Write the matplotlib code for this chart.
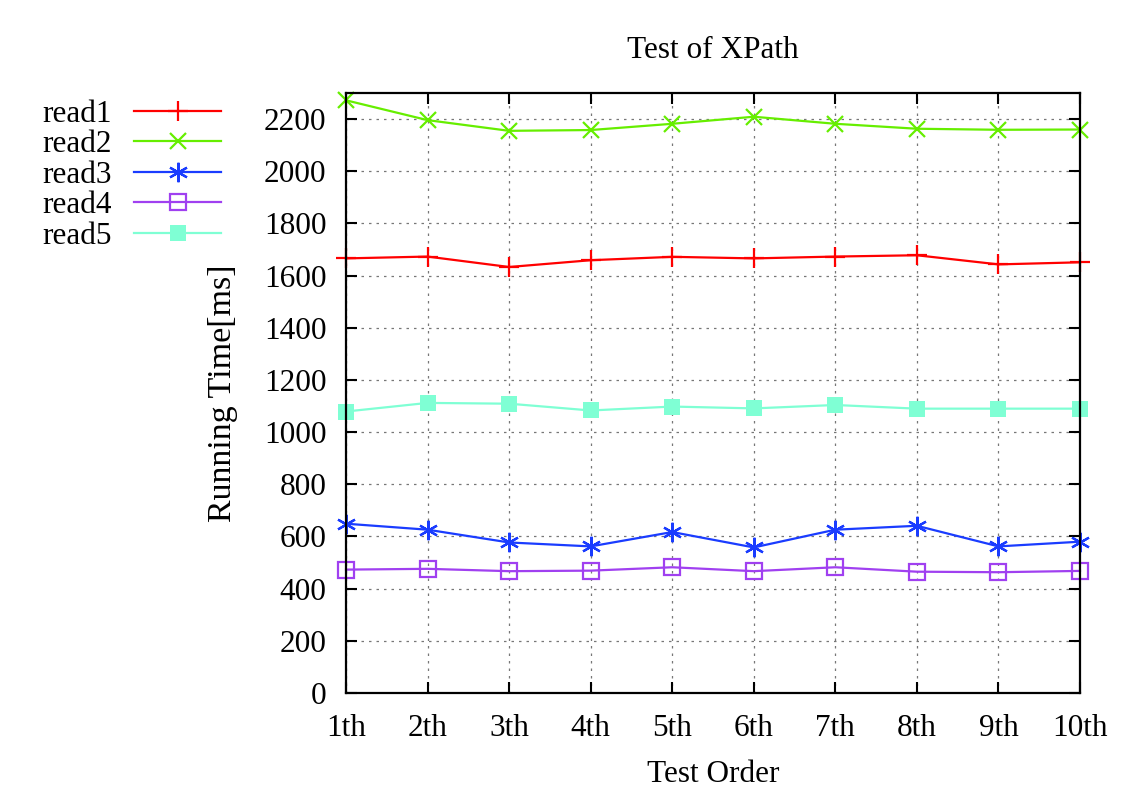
import matplotlib
matplotlib.use("Agg")
import matplotlib.pyplot as plt

categories = ["1th", "2th", "3th", "4th", "5th", "6th", "7th", "8th", "9th", "10th"]
read1 = [1666, 1673, 1633, 1659, 1672, 1666, 1673, 1678, 1643, 1651]
read2 = [2272, 2196, 2155, 2158, 2182, 2209, 2182, 2163, 2159, 2160]
read3 = [649, 626, 577, 562, 617, 558, 626, 641, 562, 580]
read4 = [473, 476, 467, 469, 482, 467, 482, 465, 463, 468]
read5 = [1079, 1112, 1109, 1083, 1098, 1091, 1104, 1090, 1090, 1090]
series_names = ["read1", "read2", "read3", "read4", "read5"]
yticks = list(range(0, 2201, 200))

plt.rcParams['font.family'] = ['Liberation Serif', 'DejaVu Serif']
FS = 22.5

fig = plt.figure(figsize=(11.34, 7.95), dpi=100)
ax = fig.add_axes([346/1134, 1-693/795, (1080-346)/1134, (693-93)/795])

x = list(range(len(categories)))
styles = [
    dict(color='#ff0000', marker='+', ms=15, mew=1.6, mfc='none'),
    dict(color='#66ee00', marker='x', ms=12, mew=1.6, mfc='none'),
    dict(color='#1a3cff', marker=(6, 2, 0), ms=14, mew=1.6, mfc='none'),
    dict(color='#a040f0', marker='s', ms=12, mew=1.6, mfc='none'),
    dict(color='#7fffd4', marker='s', ms=12, mew=0),
]
data = [read1, read2, read3, read4, read5]
for name, vals, st in zip(series_names, data, styles):
    ax.plot(x, vals, lw=1.6, label=name, clip_on=False, **st)

ax.set_xlim(0, len(categories) - 1)
ax.set_ylim(0, 2300)
ax.set_xticks(x)
ax.set_xticklabels(categories, fontsize=FS)
ax.set_yticks(yticks)
ax.set_yticklabels([str(v) for v in yticks], fontsize=FS)
ax.tick_params(direction='in', length=8, width=1.5, top=True, right=True)
ax.tick_params(axis='x', pad=15)
ax.tick_params(axis='y', pad=14)
ax.grid(True, linestyle=(0, (2, 4)), color='#777777', linewidth=0.9)
for sp in ax.spines.values():
    sp.set_linewidth(1.6)

ax.set_title("Test of XPath", fontsize=FS, pad=25)
ax.set_xlabel("Test Order", fontsize=FS, labelpad=12)
ax.set_ylabel("Running Time[ms]", fontsize=24.5, labelpad=19)

fig.legend(loc='upper left', bbox_to_anchor=(30/1134, 1-87/795), frameon=False,
           markerfirst=False, fontsize=FS, handlelength=2.8, labelspacing=0.05,
           handletextpad=0.7, borderaxespad=0)

fig.savefig("out.png", dpi=100)
